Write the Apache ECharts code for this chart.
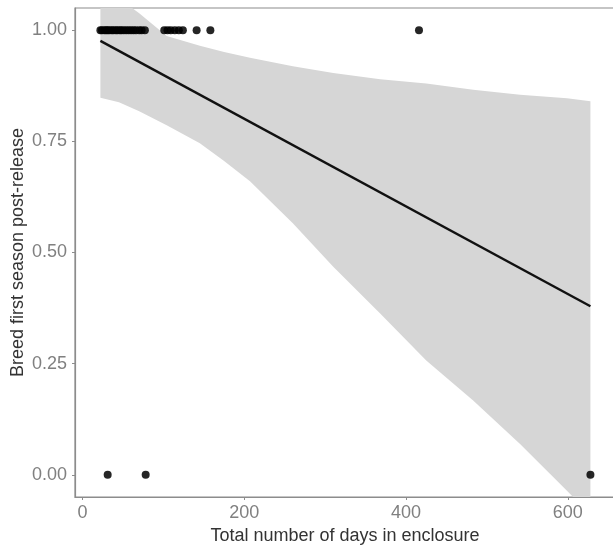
<!DOCTYPE html>
<html>
<head>
<meta charset="utf-8">
<script src="https://cdn.jsdelivr.net/npm/echarts@6/dist/echarts.min.js"></script>
<style>
  html, body { margin: 0; padding: 0; background: #fff; }
  #chart { width: 613px; height: 549px; }
</style>
</head>
<body>
<div id="chart"></div>
<script>
// observed points (days in enclosure, bred first season 0/1)
var bredDays = [22, 24, 27, 29, 31, 33, 36, 38, 41, 43, 46, 48, 51, 54, 57, 60, 63, 66, 70, 73, 77,
                101, 105, 109, 114, 119, 124, 141, 158, 416];
var notBredDays = [31, 78, 628];

// fitted line end points
var fitDays = [22, 628];
var fitValues = [0.976, 0.379];

// confidence band edges
var bandDays = [22, 45, 70, 104, 145, 175, 207, 260, 310, 368, 425, 483, 541, 599, 628];
var bandLower = [0.848, 0.838, 0.818, 0.786, 0.746, 0.706, 0.66, 0.566, 0.468, 0.363, 0.257, 0.167, 0.069, -0.036, -0.09];
var bandUpper = [1.10, 1.072, 1.038, 0.987, 0.965, 0.951, 0.938, 0.919, 0.904, 0.89, 0.88, 0.866, 0.855, 0.847, 0.84];

var xTicks = [0, 200, 400, 600];
var yTicks = [0, 0.25, 0.5, 0.75, 1];

var myChart = echarts.init(document.getElementById('chart'));

var points = bredDays.map(function (d) { return [d, 1]; })
  .concat(notBredDays.map(function (d) { return [d, 0]; }));
var fitLine = fitDays.map(function (d, i) { return [d, fitValues[i]]; });
var bandData = bandDays.map(function (d, i) { return [d, bandLower[i], bandUpper[i]]; });

var labelColor = '#808080';
var lineColor = '#8c8c8c';
var fontFam = '"Liberation Sans", Arial, sans-serif';

// whole ribbon as one polygon: upper edge forward, lower edge back
function renderBand(params, api) {
  if (params.dataIndex !== 0) return;
  var pts = [];
  for (var i = 0; i < bandData.length; i++) {
    pts.push(api.coord([bandData[i][0], bandData[i][2]]));
  }
  for (var j = bandData.length - 1; j >= 0; j--) {
    pts.push(api.coord([bandData[j][0], bandData[j][1]]));
  }
  var cs = params.coordSys;
  return {
    type: 'polygon',
    shape: { points: pts },
    style: { fill: '#d6d6d6' },
    clipPath: { type: 'rect', shape: { x: cs.x, y: cs.y, width: cs.width, height: cs.height } }
  };
}

var option = {
  animation: false,
  grid: {
    left: 75, top: 8, width: 540, height: 489,
    outerBoundsMode: 'none', containLabel: false,
    show: true, borderColor: lineColor, borderWidth: 1.2, backgroundColor: '#fff'
  },
  xAxis: {
    type: 'value',
    min: -9.4, max: 658.4,
    name: 'Total number of days in enclosure',
    nameLocation: 'middle',
    nameGap: 30,
    nameMoveOverlap: false,
    nameTextStyle: { color: '#333', fontSize: 18, fontFamily: fontFam },
    splitLine: { show: false },
    axisLine: { show: true, onZero: false, lineStyle: { color: lineColor, width: 1.2 } },
    axisTick: { show: true, length: 3, lineStyle: { color: lineColor }, customValues: xTicks },
    axisLabel: { color: labelColor, fontSize: 18, fontFamily: fontFam, margin: 7, customValues: xTicks }
  },
  yAxis: {
    type: 'value',
    min: -0.05, max: 1.05,
    name: 'Breed first season post-release',
    nameLocation: 'middle',
    nameGap: 48,
    nameMoveOverlap: false,
    nameTextStyle: { color: '#333', fontSize: 18, fontFamily: fontFam },
    splitLine: { show: false },
    axisLine: { show: true, onZero: false, lineStyle: { color: lineColor, width: 1.2 } },
    axisTick: { show: true, length: 3, lineStyle: { color: lineColor }, customValues: yTicks },
    axisLabel: {
      color: labelColor, fontSize: 18, fontFamily: fontFam, margin: 8, customValues: yTicks,
      formatter: function (v) { return v.toFixed(2); }
    }
  },
  series: [
    {
      type: 'custom', data: bandData, renderItem: renderBand, silent: true, z: 1,
      encode: { x: 0, y: [1, 2] }
    },
    {
      type: 'line', data: fitLine, symbol: 'none', clip: true, z: 3,
      lineStyle: { color: '#111', width: 2.4 }
    },
    {
      type: 'scatter', data: points, symbolSize: 8, clip: false, z: 4,
      itemStyle: { color: '#000', opacity: 0.85 }
    }
  ]
};

myChart.setOption(option);
</script>
</body>
</html>
